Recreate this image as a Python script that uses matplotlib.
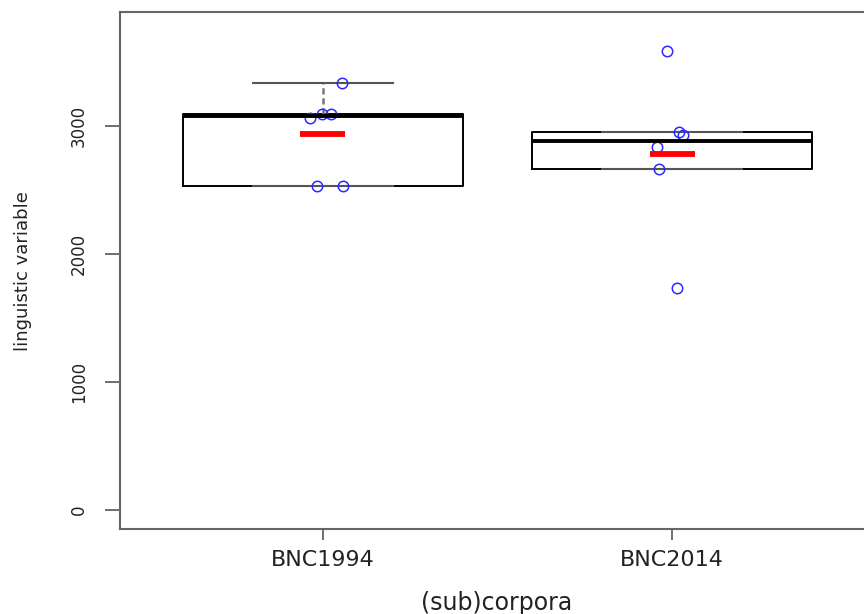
import math
import matplotlib
matplotlib.use('Agg')
import matplotlib.pyplot as plt
import numpy as np

groups = ['BNC1994', 'BNC2014']
bnc1994 = [3333, 3065, 3091, 3091, 2530, 2530]
bnc2014 = [2955, 2929, 2838, 2666, 1735, 3584]
# jittered x positions
jit1994 = [1.054, 0.964, 0.999, 1.025, 0.985, 1.059]
jit2014 = [2.018, 2.031, 1.955, 1.962, 2.013, 1.985]
yticks = [0, 1000, 2000, 3000]


def fivenum(v):
    x = sorted(v)
    n = len(x)
    n4 = math.floor((n + 3) / 2) / 2
    d = [1, n4, (n + 1) / 2, n + 1 - n4, n]
    return [0.5 * (x[math.floor(i - 1)] + x[math.ceil(i - 1)]) for i in d]


def stats(v):
    lo, q1, med, q3, hi = fivenum(v)
    iqr = q3 - q1
    whislo = min(a for a in v if a >= q1 - 1.5 * iqr)
    whishi = max(a for a in v if a <= q3 + 1.5 * iqr)
    return dict(med=med, q1=q1, q3=q3, whislo=whislo, whishi=whishi, fliers=[])


data = [bnc1994, bnc2014]
jits = [jit1994, jit2014]

fig = plt.figure(figsize=(8.64, 6.14), dpi=100)
ax = fig.add_axes([120 / 864, 1 - 529 / 614, 755 / 864, 517 / 614])

ax.bxp([stats(v) for v in data], positions=[1, 2], widths=0.8, capwidths=0.4,
       showfliers=False,
       boxprops=dict(color='black', lw=1.4),
       medianprops=dict(color='black', lw=2.8),
       whiskerprops=dict(color='#777777', lw=1.8, linestyle=(0, (2.5, 1.5))),
       capprops=dict(color='#555555', lw=1.5))

for i, v in enumerate(data):
    ax.plot(jits[i], v, 'o', mfc='none', mec='#2a2aff', mew=1.1, ms=7.5)
    m = np.mean(v)
    ax.plot([i + 1 - 0.065, i + 1 + 0.065], [m, m], color='red', lw=4.2,
            solid_capstyle='butt')

ax.set_xlim(0.42, 2.58)
ax.set_ylim(-148, 3890)
ax.set_xticks([1, 2])
ax.set_xticklabels(groups)
ax.set_yticks(yticks)
ax.set_yticklabels([str(t) for t in yticks], rotation=90, va='center')

ax.tick_params(axis='x', length=8, width=1.2, color='#555555', pad=7,
               labelsize=16, labelcolor='#222222')
ax.tick_params(axis='y', length=11, width=1.2, color='#555555', pad=12,
               labelsize=12, labelcolor='#222222')
for s in ax.spines.values():
    s.set_color('#666666')
    s.set_linewidth(1.5)

fig.text(23 / 864, 1 - 271 / 614, 'linguistic variable', rotation=90,
         ha='center', va='center', fontsize=13, color='#222222')
fig.text(497 / 864, 1 - 603 / 614, '(sub)corpora', ha='center', va='center',
         fontsize=17, color='#222222')

fig.savefig('out.png', dpi=100)
